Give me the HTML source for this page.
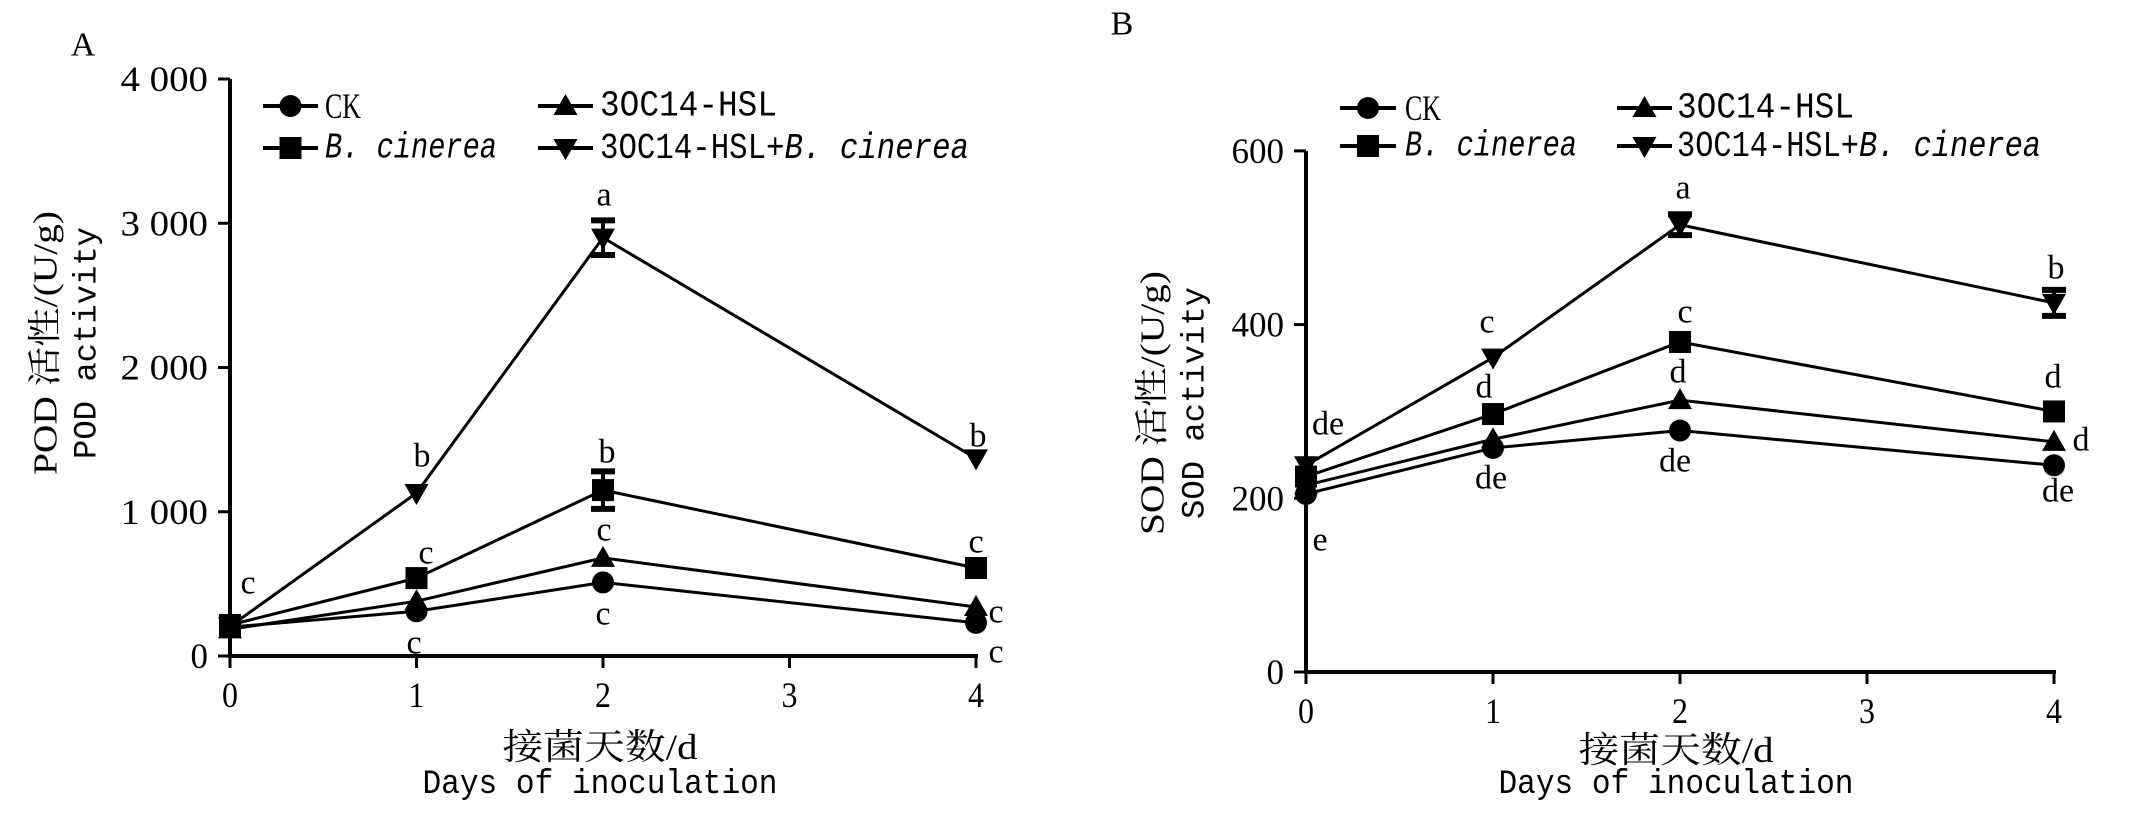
<!DOCTYPE html>
<html><head><meta charset="utf-8"><style>
html,body{margin:0;padding:0;background:#fff;}
svg{display:block;}
text{fill:#000;}
</style></head><body>
<svg id="s" width="2140" height="828" viewBox="0 0 2140 828" xmlns="http://www.w3.org/2000/svg"></svg>
<script>
const S=document.getElementById('s');const NS='http://www.w3.org/2000/svg';
function el(t,a,txt){const e=document.createElementNS(NS,t);for(const k in a)e.setAttribute(k,a[k]);if(txt!==undefined)e.textContent=txt;S.appendChild(e);return e;}
const MONO='"Liberation Mono","Noto Serif CJK SC",monospace';
const SER='"Liberation Serif","Noto Serif CJK SC",serif';
function T(x,y,s,o){o=o||{};const a={x:x,y:y,'font-family':o.f||SER,'font-size':o.fs||34,'text-anchor':o.a||'middle','dominant-baseline':'central'};if(o.len){a.textLength=o.len;a.lengthAdjust='spacingAndGlyphs';}if(o.tr)a.transform=o.tr;if(o.it)a['font-style']='italic';return el('text',a,s);}
function marker(type,x,y){
 if(type==0)el('circle',{cx:x,cy:y,r:11});
 else if(type==1)el('rect',{x:x-11,y:y-11,width:22,height:22});
 else if(type==2)el('polygon',{points:`${x},${y-12} ${x-12},${y+9} ${x+12},${y+9}`});
 else el('polygon',{points:`${x},${y+12} ${x-12},${y-9} ${x+12},${y-9}`});
}
function legendRow(lx1,lx2,y,type){
 el('line',{x1:lx1,y1:y,x2:lx2,y2:y,stroke:'#000','stroke-width':4});
 marker(type,(lx1+lx2)/2,y);
}
function chart(c){
 const X=d=>c.x0+d*c.dx, Y=v=>c.y0-v*c.sy;
 el('line',{x1:c.x0,y1:c.ytop,x2:c.x0,y2:c.y0+2,stroke:'#000','stroke-width':4});
 el('line',{x1:c.x0-2,y1:c.y0,x2:X(4)+2,y2:c.y0,stroke:'#000','stroke-width':4});
 for(let i=0;i<=4;i++){const x=X(i);el('line',{x1:x,y1:c.y0,x2:x,y2:c.y0+12,stroke:'#000','stroke-width':3});T(x,c.y0+39,String(i),{fs:36,len:16});}
 c.yt.forEach(([v,l])=>{const y=Y(v);el('line',{x1:c.x0-12,y1:y,x2:c.x0,y2:y,stroke:'#000','stroke-width':3});T(c.x0-22,y,l,{fs:36,a:'end',len:l.length*17.5});});
 const days=[0,1,2,4];
 // data order: CK(circle), B.c(square), 3OC14(triangle), combo(down)
 c.data.forEach((ser,k)=>{
  const pts=days.map((d,i)=>X(d)+','+Y(ser[i])).join(' ');
  el('polyline',{points:pts,fill:'none',stroke:'#000','stroke-width':3});
 });
 c.err.forEach(([k,i,e])=>{const x=X(days[i]),y1=Y(c.data[k][i]+e),y2=Y(c.data[k][i]-e);
  el('line',{x1:x,y1:y1,x2:x,y2:y2,stroke:'#000','stroke-width':4});
  el('line',{x1:x-12,y1:y1,x2:x+12,y2:y1,stroke:'#000','stroke-width':6});
  el('line',{x1:x-12,y1:y2,x2:x+12,y2:y2,stroke:'#000','stroke-width':6});});
 c.data.forEach((ser,k)=>days.forEach((d,i)=>marker(k,X(d),Y(ser[i]))));
 c.letters.forEach(([x,y,s])=>T(x,y,s,{fs:34}));
 const L=c.leg;
 legendRow(L.a1,L.a2,L.r1,0);legendRow(L.a1,L.a2,L.r2,1);
 legendRow(L.b1,L.b2,L.r1,2);legendRow(L.b1,L.b2,L.r2,3);
 T(L.ta,L.r1,'CK',{fs:36,a:'start',len:36});
 T(L.ta,L.r2,'B. cinerea',{fs:36,a:'start',len:172,it:1,f:MONO});
 T(L.tb,L.r1,'3OC14-HSL',{fs:36,a:'start',len:177,f:MONO});
 const t=el('text',{x:L.tb,y:L.r2,'font-family':MONO,'font-size':36,'dominant-baseline':'central',textLength:L.tbl,lengthAdjust:'spacingAndGlyphs'});
 const s1=document.createElementNS(NS,'tspan');s1.textContent='3OC14-HSL+';t.appendChild(s1);
 const s2=document.createElementNS(NS,'tspan');s2.setAttribute('font-style','italic');s2.textContent='B. cinerea';t.appendChild(s2);
 T(c.xc,c.y0+c.t1,'接菌天数/d',{fs:36,f:SER,len:195});
 T(c.xc,c.y0+c.t2,'Days of inoculation',{fs:34,f:MONO,len:355});
 T(0,0,c.yl1,{fs:34,len:264,tr:`translate(${c.ylx1},${c.ylc}) rotate(-90)`});
 T(0,0,c.yl2,{fs:32,f:MONO,len:232,tr:`translate(${c.ylx2},${c.ylc}) rotate(-90)`});
 T(c.lab[0],c.lab[1],c.lab[2],{fs:34});
}
chart({x0:230,dx:186.5,y0:656,sy:0.14425,ytop:79,t1:91,t2:129,
 yt:[[0,'0'],[1000,'1 000'],[2000,'2 000'],[3000,'3 000'],[4000,'4 000']],
 data:[[200,310,510,230],[215,540,1150,610],[185,380,680,340],[205,1130,2900,1370]],
 err:[[1,2,130],[3,2,120]],
 letters:[[248,583,'c'],[426,553,'c'],[414,643,'c'],[422,456,'b'],[604,195,'a'],[607,452,'b'],[604,530,'c'],[603,614,'c'],[978,436,'b'],[976,542,'c'],[996,612,'c'],[996,652,'c']],
 leg:{a1:263,a2:318,b1:538,b2:593,r1:106,r2:148,ta:325,tb:600,tbl:369},
 xc:600,yl1:'POD 活性/(U/g)',yl2:'POD activity',ylx1:46,ylx2:87,ylc:343,lab:[83,45,'A']});
chart({x0:1306,dx:187,y0:672,sy:0.8685,ytop:151,t1:78,t2:113,
 yt:[[0,'0'],[200,'200'],[400,'400'],[600,'600']],
 data:[[205,258,278,238],[225,297,380,300],[215,268,313,265],[238,362,515,425]],
 err:[[3,2,12],[3,3,15]],
 letters:[[1328,424,'de'],[1320,540,'e'],[1487,322,'c'],[1484,387,'d'],[1491,478,'de'],[1683,188,'a'],[1685,312,'c'],[1678,372,'d'],[1675,461,'de'],[2056,268,'b'],[2053,377,'d'],[2081,440,'d'],[2058,491,'de']],
 leg:{a1:1340,a2:1396,b1:1617,b2:1672,r1:108,r2:146,ta:1405,tb:1677,tbl:364},
 xc:1676,yl1:'SOD 活性/(U/g)',yl2:'SOD activity',ylx1:1153,ylx2:1195,ylc:403,lab:[1122,24,'B']});
</script>
</body></html>
